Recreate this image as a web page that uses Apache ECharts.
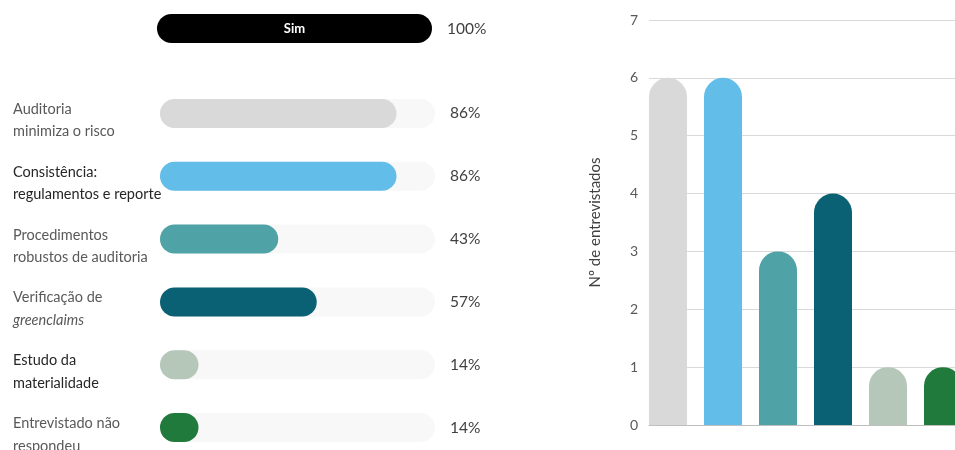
<!DOCTYPE html>
<html>
<head>
<meta charset="utf-8">
<script src="https://cdn.jsdelivr.net/npm/echarts@6/dist/echarts.min.js"></script>
<style>html,body{margin:0;padding:0;background:#fff}#c{width:955px;height:450px}</style>
</head>
<body>
<div id="c"></div>
<script>
// ---- data ----
var topCategory = ['Sim'];
var topPercent = [100];
var categories = ['Auditoria minimiza o risco', 'Consistência: regulamentos e reporte', 'Procedimentos robustos de auditoria', 'Verificação de greenclaims', 'Estudo da materialidade', 'Entrevistado não respondeu'];
var categoryLabels = ['Auditoria\nminimiza o risco', 'Consistência:\nregulamentos e reporte', 'Procedimentos\nrobustos de auditoria', 'Verificação de\n{it|greenclaims}', 'Estudo da\nmaterialidade', 'Entrevistado não\nrespondeu'];
var percents = [86, 86, 43, 57, 14, 14];
var counts = [6, 6, 3, 4, 1, 1];
var yTicks = [0, 1, 2, 3, 4, 5, 6, 7];
var colors = ['#d9d9d9', '#63bde9', '#4fa3a6', '#0a6174', '#b5c7b8', '#1f7a3c'];
var labelDark = [false, true, false, false, true, false];

var chart = echarts.init(document.getElementById('c'));
var font = 'Lato, "Open Sans", sans-serif';

var option = {
  animation: false,
  grid: [
    {left: 157, width: 275, top: 14, height: 29},
    {left: 160, width: 275, top: 82, height: 377, outerBoundsMode: 'none'},
    {left: 649, right: 0, top: 20, bottom: 25},
    {left: 640.5, width: 330, top: 20, bottom: 25, outerBoundsMode: 'none', containLabel: false}
  ],
  xAxis: [
    {gridIndex: 0, type: 'value', min: 0, max: 100, show: false},
    {gridIndex: 1, type: 'value', min: 0, max: 100, show: false},
    {gridIndex: 2, type: 'category', data: categories, axisLine: {show: true, lineStyle: {color: '#bfbfbf'}}, axisTick: {show: false}, axisLabel: {show: false}},
    {gridIndex: 3, type: 'category', data: categories, show: false}
  ],
  yAxis: [
    {gridIndex: 0, type: 'category', data: topCategory, show: false},
    {gridIndex: 1, type: 'category', data: categoryLabels, inverse: true,
      axisLine: {show: false}, axisTick: {show: false},
      axisLabel: {
        align: 'left', margin: 147, fontFamily: font, fontSize: 14.5, lineHeight: 22.5,
        padding: [14, 0, 0, 0],
        color: function (v, i) { return labelDark[i] ? '#262626' : '#595959'; },
        rich: {it: {fontStyle: 'italic', fontFamily: font, fontSize: 14.5, color: '#595959', lineHeight: 22.5}}
      }
    },
    {gridIndex: 2, type: 'value', min: 0, max: 7, interval: 1,
      name: 'Nº de entrevistados', nameLocation: 'middle', nameGap: 46,
      nameTextStyle: {fontFamily: font, fontSize: 15, color: '#404040'},
      axisLine: {show: false}, axisTick: {show: false},
      axisLabel: {color: '#595959', fontFamily: font, fontSize: 14, margin: 11},
      splitLine: {lineStyle: {color: '#d9d9d9'}}
    },
    {gridIndex: 3, type: 'value', min: 0, max: 7, interval: 1, show: false, splitLine: {show: false}}
  ],
  series: [
    {type: 'bar', xAxisIndex: 0, yAxisIndex: 0, barWidth: 29, data: topPercent.map(function(){return 100;}),
      itemStyle: {color: '#f8f8f8', borderRadius: 14.5}, silent: true,
      label: {show: true, position: 'right', distance: 15, fontFamily: font, fontSize: 15.5, color: '#404040',
        formatter: function (p) { return topPercent[p.dataIndex] + '%'; }}},
    {type: 'bar', xAxisIndex: 0, yAxisIndex: 0, barWidth: 29, barGap: '-100%', data: topPercent,
      itemStyle: {color: '#000', borderRadius: 14.5},
      label: {show: true, position: 'inside', fontFamily: font, fontSize: 13, fontWeight: 'bold', color: '#fff',
        formatter: function (p) { return topCategory[p.dataIndex]; }}},
    {type: 'bar', xAxisIndex: 1, yAxisIndex: 1, barWidth: 29, data: percents.map(function(){return 100;}),
      itemStyle: {color: '#f8f8f8', borderRadius: 14.5}, silent: true,
      label: {show: true, position: 'right', distance: 15, fontFamily: font, fontSize: 15.5, color: '#404040',
        formatter: function (p) { return percents[p.dataIndex] + '%'; }}},
    {type: 'bar', xAxisIndex: 1, yAxisIndex: 1, barWidth: 29, barGap: '-100%',
      data: percents.map(function (v, i) { return {value: v, itemStyle: {color: colors[i]}}; }),
      itemStyle: {borderRadius: 14.5}},
    {type: 'bar', xAxisIndex: 3, yAxisIndex: 3, barWidth: 38,
      data: counts.map(function (v, i) { return {value: v, itemStyle: {color: colors[i]}}; }),
      itemStyle: {borderRadius: [19, 19, 0, 0]}}
  ]
};
chart.setOption(option);
</script>
</body>
</html>
